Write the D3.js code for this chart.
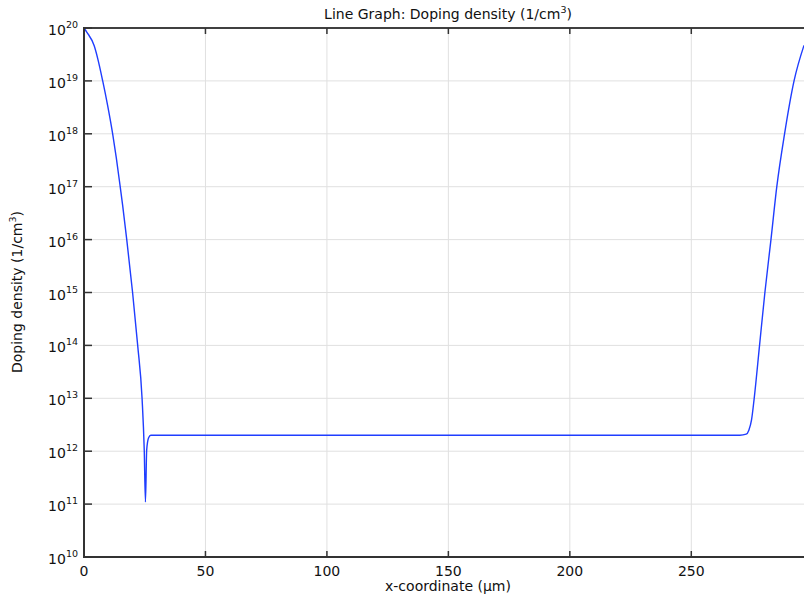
<!DOCTYPE html>
<html>
<head>
<meta charset="utf-8">
<script src="https://cdn.jsdelivr.net/npm/d3@7"></script>
<style>
  body { margin: 0; background: #fff; }
  svg { display: block; font-family: "DejaVu Sans", sans-serif; }
</style>
</head>
<body>
<script>
// data
const xCoord = [0, 1.2, 4.2, 5.6, 7.7, 9.7, 11.8, 13.3, 14.9, 15.9, 17.6, 20.0, 22.1, 23.9,
  24.8, 25.3, 25.8, 26.6, 27.5, 40, 100, 150, 200, 250, 270, 272.6, 273.7, 274.8, 275.9,
  278.1, 280.3, 282.8, 285.2, 288.4, 292.3, 296.4];
const doping = [1e20, 8.3e19, 4.6e19, 2.7e19, 1e19, 3.5e18, 1e18, 3.5e17, 1e17, 4.5e16, 1e16,
  1e15, 1e14, 1e13, 1.05e12, 1.1e11, 1.05e12, 1.8e12, 2e12, 2e12, 2e12, 2e12, 2e12, 2e12,
  2e12, 2.1e12, 2.5e12, 3.9e12, 1e13, 1e14, 1e15, 1e16, 1e17, 1e18, 1e19, 4.7e19];
const xTicks = [0, 50, 100, 150, 200, 250];
const yExponents = [10, 11, 12, 13, 14, 15, 16, 17, 18, 19, 20];

const width = 804, height = 595;
const margin = { top: 28, right: 0, bottom: 38, left: 84 };

const svg = d3.select("body").append("svg")
  .attr("width", width)
  .attr("height", height);

const x = d3.scaleLinear().domain([0, 296.4]).range([margin.left, width - margin.right]);
const y = d3.scaleLog().domain([1e10, 1e20]).range([height - margin.bottom, margin.top]);

// grid
svg.append("g").selectAll("line.gx").data(xTicks.slice(1))
  .join("line")
  .attr("x1", d => x(d)).attr("x2", d => x(d))
  .attr("y1", y(1e20)).attr("y2", y(1e10))
  .attr("stroke", "#e0e0e0").attr("stroke-width", 1);
svg.append("g").selectAll("line.gy").data(yExponents.slice(1, -1))
  .join("line")
  .attr("x1", x(0)).attr("x2", width)
  .attr("y1", d => y(Math.pow(10, d))).attr("y2", d => y(Math.pow(10, d)))
  .attr("stroke", "#e0e0e0").attr("stroke-width", 1);

// the curve
const line = d3.line()
  .x((d, i) => x(xCoord[i]))
  .y(d => y(d))
  .curve(d3.curveMonotoneX);

svg.append("path")
  .datum(doping)
  .attr("d", line)
  .attr("fill", "none")
  .attr("stroke", "#1f3dff")
  .attr("stroke-width", 1.4);

// frame
svg.append("line")
  .attr("x1", x(0)).attr("x2", width)
  .attr("y1", y(1e20)).attr("y2", y(1e20))
  .attr("stroke", "#000").attr("stroke-width", 1.5);
svg.append("line")
  .attr("x1", x(0)).attr("x2", width)
  .attr("y1", y(1e10)).attr("y2", y(1e10))
  .attr("stroke", "#333").attr("stroke-width", 2);
svg.append("line")
  .attr("x1", x(0)).attr("x2", x(0))
  .attr("y1", y(1e20) - 1).attr("y2", y(1e10) + 1)
  .attr("stroke", "#333").attr("stroke-width", 2);

// x ticks (bottom up, top down)
const xt = svg.append("g");
xt.selectAll("line.b").data(xTicks.slice(1)).join("line")
  .attr("x1", d => x(d)).attr("x2", d => x(d))
  .attr("y1", y(1e10)).attr("y2", y(1e10) - 6)
  .attr("stroke", "#333").attr("stroke-width", 1.5);
xt.selectAll("line.t").data(xTicks.slice(1)).join("line")
  .attr("x1", d => x(d)).attr("x2", d => x(d))
  .attr("y1", y(1e20)).attr("y2", y(1e20) + 6)
  .attr("stroke", "#333").attr("stroke-width", 1.5);
xt.selectAll("text").data(xTicks).join("text")
  .attr("x", d => x(d)).attr("y", height - margin.bottom + 19)
  .attr("text-anchor", "middle")
  .attr("font-size", 14).attr("fill", "#111")
  .text(d => d);

// y ticks
const yt = svg.append("g");
yt.selectAll("line").data(yExponents).join("line")
  .attr("x1", x(0)).attr("x2", x(0) + 8)
  .attr("y1", d => y(Math.pow(10, d))).attr("y2", d => y(Math.pow(10, d)))
  .attr("stroke", "#333").attr("stroke-width", 1.5);
const yl = yt.selectAll("text").data(yExponents).join("text")
  .attr("x", x(0) - 6).attr("y", d => y(Math.pow(10, d)) + 7)
  .attr("text-anchor", "end")
  .attr("font-size", 14).attr("fill", "#111");
yl.append("tspan").text("10");
yl.append("tspan").attr("dy", -7).attr("font-size", 9.5).text(d => d);

// titles
const title = svg.append("text")
  .attr("x", 448).attr("y", 19)
  .attr("text-anchor", "middle")
  .attr("font-size", 14).attr("fill", "#111");
title.append("tspan").text("Line Graph: Doping density (1/cm");
title.append("tspan").attr("dy", -6).attr("font-size", 9.5).text("3");
title.append("tspan").attr("dy", 6).text(")");

svg.append("text")
  .attr("x", 448).attr("y", height - 4)
  .attr("text-anchor", "middle")
  .attr("font-size", 14).attr("fill", "#111")
  .text("x-coordinate (µm)");

const yTitle = svg.append("text")
  .attr("transform", "translate(22,292) rotate(-90)")
  .attr("text-anchor", "middle")
  .attr("font-size", 14).attr("fill", "#111");
yTitle.append("tspan").text("Doping density (1/cm");
yTitle.append("tspan").attr("dy", -6).attr("font-size", 9.5).text("3");
yTitle.append("tspan").attr("dy", 6).text(")");
</script>
</body>
</html>
